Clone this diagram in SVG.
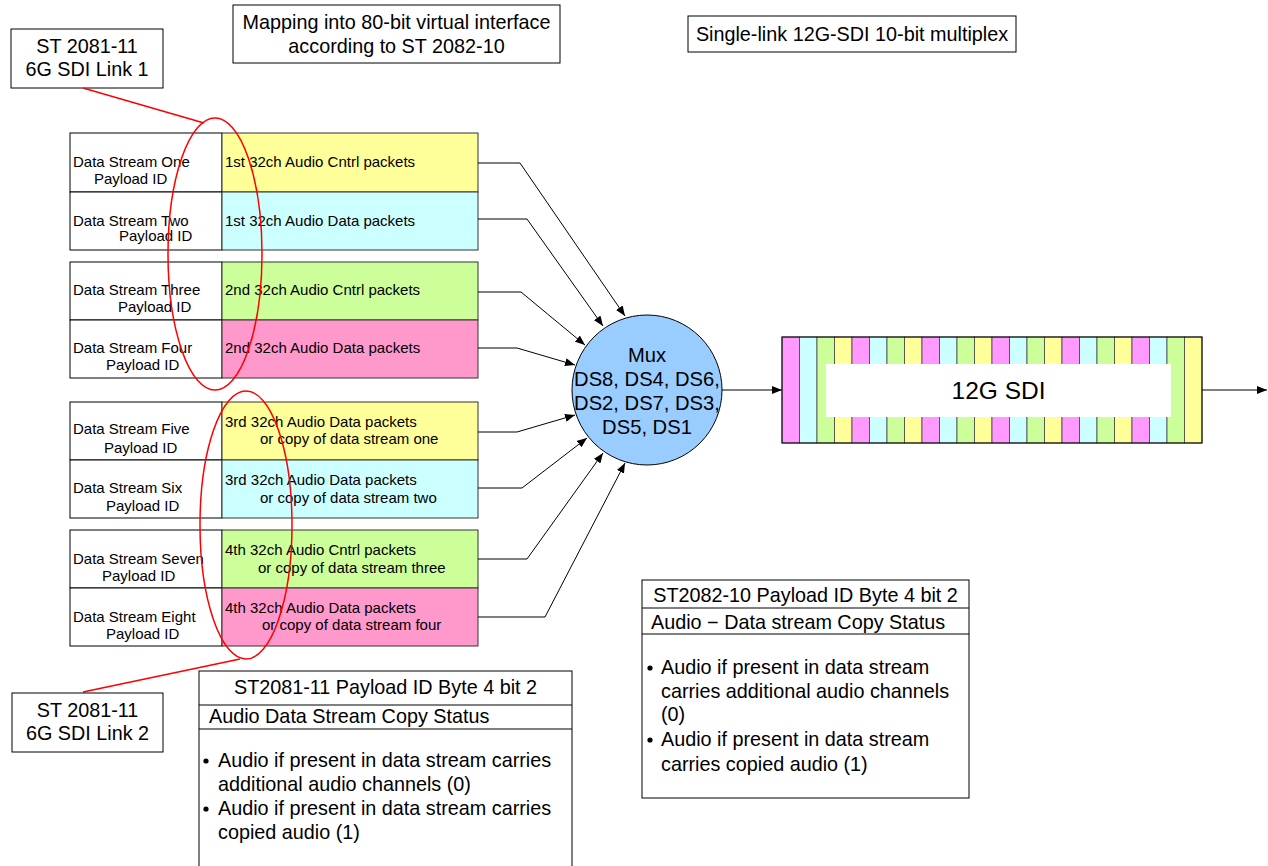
<svg xmlns="http://www.w3.org/2000/svg" width="1268" height="866" viewBox="0 0 1268 866">
<defs>
<style>
text{font-family:"Liberation Sans",Arial,sans-serif;fill:#000}
.big{font-size:19.8px}
.sm{font-size:15px}
.box{fill:#fff;stroke:#000;stroke-width:1}
.cell{stroke:#333;stroke-width:1}
.y{fill:#FFFF99}.c{fill:#CCFFFF}.g{fill:#CCFF99}.p{fill:#FF99CC}.m{fill:#FF99FF}
.st{stroke:#444;stroke-width:0.8}
.conn{fill:none;stroke:#000;stroke-width:1;marker-end:url(#arr)}
.red{fill:none;stroke:#FF0000;stroke-width:1.5}
.bul{fill:#000}
</style>
<marker id="arr" markerWidth="10" markerHeight="8" refX="10" refY="4" orient="auto" markerUnits="userSpaceOnUse">
<path d="M0,0 L10,4 L0,8 z" fill="#000"/>
</marker>
</defs>
<rect width="1268" height="866" fill="#fff"/>

<g id="link1-label">
<rect class="box" x="11" y="29" width="152" height="59"/>
<text class="big" x="87" y="53" text-anchor="middle">ST 2081-11</text>
<text class="big" x="87" y="76" text-anchor="middle">6G SDI Link 1</text>
</g>

<g id="mapping-title">
<rect class="box" x="233" y="5" width="327" height="58"/>
<text class="big" x="396.5" y="29" text-anchor="middle">Mapping into 80-bit virtual interface</text>
<text class="big" x="396.5" y="53" text-anchor="middle">according to ST 2082-10</text>
</g>

<g id="multiplex-title">
<rect class="box" x="688" y="16" width="328" height="36"/>
<text class="big" x="852" y="41" text-anchor="middle">Single-link 12G-SDI 10-bit multiplex</text>
</g>

<g id="ds1">
<rect class="box" x="70" y="133" width="152" height="59"/>
<rect class="cell y" x="222" y="133" width="256" height="59"/>
<text class="sm" x="73" y="167">Data Stream One</text>
<text class="sm" x="94" y="184">Payload ID</text>
<text class="sm" x="225" y="167">1st 32ch Audio Cntrl packets</text>
</g>
<g id="ds2">
<rect class="box" x="70" y="192" width="152" height="58"/>
<rect class="cell c" x="222" y="192" width="256" height="58"/>
<text class="sm" x="73" y="226">Data Stream Two</text>
<text class="sm" x="119" y="241">Payload ID</text>
<text class="sm" x="225" y="226">1st 32ch Audio Data packets</text>
</g>
<g id="ds3">
<rect class="box" x="70" y="262" width="152" height="58"/>
<rect class="cell g" x="222" y="262" width="256" height="58"/>
<text class="sm" x="73" y="295">Data Stream Three</text>
<text class="sm" x="118" y="312">Payload ID</text>
<text class="sm" x="225" y="295">2nd 32ch Audio Cntrl packets</text>
</g>
<g id="ds4">
<rect class="box" x="70" y="320" width="152" height="58"/>
<rect class="cell p" x="222" y="320" width="256" height="58"/>
<text class="sm" x="73" y="353">Data Stream Four</text>
<text class="sm" x="106" y="370">Payload ID</text>
<text class="sm" x="225" y="353">2nd 32ch Audio Data packets</text>
</g>
<g id="ds5">
<rect class="box" x="70" y="402" width="152" height="58"/>
<rect class="cell y" x="222" y="402" width="256" height="58"/>
<text class="sm" x="73" y="434">Data Stream Five</text>
<text class="sm" x="104" y="453">Payload ID</text>
<text class="sm" x="225" y="427">3rd 32ch Audio Data packets</text>
<text class="sm" x="260" y="444">or copy of data stream one</text>
</g>
<g id="ds6">
<rect class="box" x="70" y="460" width="152" height="58"/>
<rect class="cell c" x="222" y="460" width="256" height="58"/>
<text class="sm" x="73" y="493">Data Stream Six</text>
<text class="sm" x="106" y="511">Payload ID</text>
<text class="sm" x="225" y="485">3rd 32ch Audio Data packets</text>
<text class="sm" x="260" y="503">or copy of data stream two</text>
</g>
<g id="ds7">
<rect class="box" x="70" y="530" width="152" height="58"/>
<rect class="cell g" x="222" y="530" width="256" height="58"/>
<text class="sm" x="73" y="564">Data Stream Seven</text>
<text class="sm" x="102" y="581">Payload ID</text>
<text class="sm" x="225" y="555">4th 32ch Audio Cntrl packets</text>
<text class="sm" x="258" y="573">or copy of data stream three</text>
</g>
<g id="ds8">
<rect class="box" x="70" y="588" width="152" height="58"/>
<rect class="cell p" x="222" y="588" width="256" height="58"/>
<text class="sm" x="73" y="622">Data Stream Eight</text>
<text class="sm" x="106" y="639">Payload ID</text>
<text class="sm" x="225" y="613">4th 32ch Audio Data packets</text>
<text class="sm" x="262" y="630">or copy of data stream four</text>
</g>

<g id="connectors">
<polyline class="conn" points="478,163 520,163 625,316"/>
<polyline class="conn" points="478,219 527,219 603,326"/>
<polyline class="conn" points="478,292 521,292 585,345"/>
<polyline class="conn" points="478,348 517,348 575,365"/>
<polyline class="conn" points="478,432 517,432 575,415"/>
<polyline class="conn" points="478,488 522,488 587,438"/>
<polyline class="conn" points="478,559 527,559 603,453"/>
<polyline class="conn" points="478,617 545,617 625,463"/>
<line class="conn" x1="722" y1="390" x2="782" y2="390"/>
<line class="conn" x1="1202" y1="390" x2="1267" y2="390"/>
<line class="red" x1="83" y1="88" x2="204" y2="123"/>
<line class="red" x1="83" y1="692" x2="240" y2="659"/>
</g>

<g id="mux">
<circle cx="647" cy="390" r="75" fill="#99CCFF" stroke="#000" stroke-width="1"/>
<text x="647" y="362" text-anchor="middle" style="font-size:20.2px">Mux</text>
<text x="647" y="386" text-anchor="middle" style="font-size:20.2px">DS8, DS4, DS6,</text>
<text x="647" y="410" text-anchor="middle" style="font-size:20.2px">DS2, DS7, DS3,</text>
<text x="647" y="434" text-anchor="middle" style="font-size:20.2px">DS5, DS1</text>
</g>

<g id="sdi12g">
<rect class="st m" x="782" y="337" width="17.5" height="106"/>
<rect class="st c" x="799.5" y="337" width="17.5" height="106"/>
<rect class="st g" x="817" y="337" width="17.5" height="106"/>
<rect class="st y" x="834.5" y="337" width="17.5" height="106"/>
<rect class="st m" x="852" y="337" width="17.5" height="106"/>
<rect class="st c" x="869.5" y="337" width="17.5" height="106"/>
<rect class="st g" x="887" y="337" width="17.5" height="106"/>
<rect class="st y" x="904.5" y="337" width="17.5" height="106"/>
<rect class="st m" x="922" y="337" width="17.5" height="106"/>
<rect class="st c" x="939.5" y="337" width="17.5" height="106"/>
<rect class="st g" x="957" y="337" width="17.5" height="106"/>
<rect class="st y" x="974.5" y="337" width="17.5" height="106"/>
<rect class="st m" x="992" y="337" width="17.5" height="106"/>
<rect class="st c" x="1009.5" y="337" width="17.5" height="106"/>
<rect class="st g" x="1027" y="337" width="17.5" height="106"/>
<rect class="st y" x="1044.5" y="337" width="17.5" height="106"/>
<rect class="st m" x="1062" y="337" width="17.5" height="106"/>
<rect class="st c" x="1079.5" y="337" width="17.5" height="106"/>
<rect class="st g" x="1097" y="337" width="17.5" height="106"/>
<rect class="st y" x="1114.5" y="337" width="17.5" height="106"/>
<rect class="st m" x="1132" y="337" width="17.5" height="106"/>
<rect class="st c" x="1149.5" y="337" width="17.5" height="106"/>
<rect class="st g" x="1167" y="337" width="17.5" height="106"/>
<rect class="st y" x="1184.5" y="337" width="17.5" height="106"/>
<rect x="782" y="337" width="420" height="106" fill="none" stroke="#000" stroke-width="1"/>
<rect x="826" y="364" width="345" height="53" fill="#fff"/>
<text x="998.5" y="399" text-anchor="middle" style="font-size:24.5px">12G SDI</text>
</g>

<g id="link1-ellipse">
<ellipse class="red" cx="215" cy="254" rx="47" ry="136"/>
</g>
<g id="link2-ellipse">
<ellipse class="red" cx="246" cy="525" rx="46" ry="134"/>
</g>

<g id="link2-label">
<rect class="box" x="12" y="693" width="151" height="59"/>
<text class="big" x="87.5" y="717" text-anchor="middle">ST 2081-11</text>
<text class="big" x="87.5" y="740" text-anchor="middle">6G SDI Link 2</text>
</g>

<g id="st2081-box">
<rect class="box" x="199" y="671" width="373" height="210"/>
<line x1="199" y1="705" x2="572" y2="705" stroke="#000"/>
<line x1="199" y1="729" x2="572" y2="729" stroke="#000"/>
<text class="big" x="385.5" y="694" text-anchor="middle">ST2081-11 Payload ID Byte 4 bit 2</text>
<text class="big" x="209" y="723">Audio Data Stream Copy Status</text>
<circle class="bul" cx="206" cy="761" r="2.6"/>
<text class="big" x="218" y="767">Audio if present in data stream carries</text>
<text class="big" x="218" y="791">additional audio channels (0)</text>
<circle class="bul" cx="206" cy="809" r="2.6"/>
<text class="big" x="218" y="815">Audio if present in data stream carries</text>
<text class="big" x="218" y="839">copied audio (1)</text>
</g>

<g id="st2082-box">
<rect class="box" x="642" y="580" width="327" height="218"/>
<line x1="642" y1="608" x2="969" y2="608" stroke="#000"/>
<line x1="642" y1="634" x2="969" y2="634" stroke="#000"/>
<text class="big" x="805.5" y="602" text-anchor="middle">ST2082-10 Payload ID Byte 4 bit 2</text>
<text class="big" x="651" y="629">Audio − Data stream Copy Status</text>
<circle class="bul" cx="650" cy="668" r="2.6"/>
<text class="big" x="661" y="674">Audio if present in data stream</text>
<text class="big" x="661" y="698">carries additional audio channels</text>
<text class="big" x="661" y="721">(0)</text>
<circle class="bul" cx="650" cy="740" r="2.6"/>
<text class="big" x="661" y="746">Audio if present in data stream</text>
<text class="big" x="661" y="771">carries copied audio (1)</text>
</g>
</svg>
